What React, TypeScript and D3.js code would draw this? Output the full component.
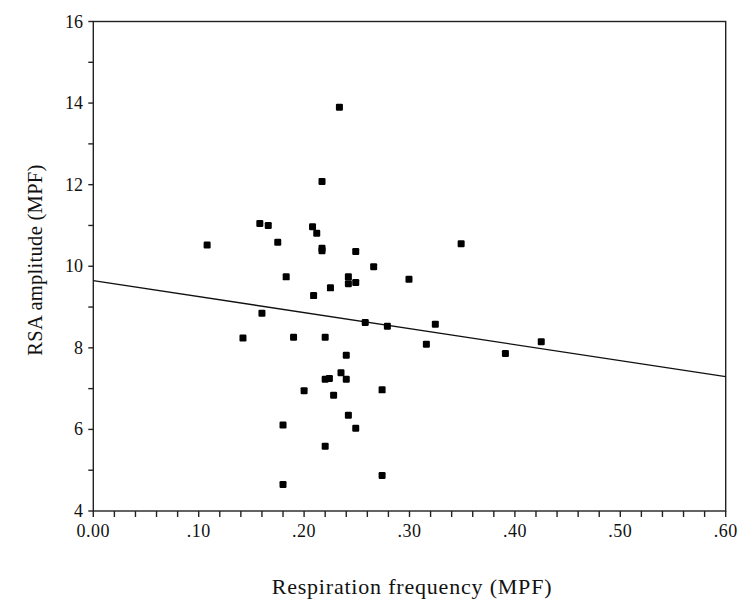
import React from "react";
import * as d3 from "d3";

const respFreq: number[] = [
  0.108, 0.142, 0.158, 0.160, 0.166, 0.175, 0.183, 0.180, 0.180, 0.190,
  0.200, 0.208, 0.209, 0.212, 0.217, 0.217, 0.217, 0.220, 0.220, 0.220,
  0.224, 0.225, 0.228, 0.2335, 0.235, 0.240, 0.240, 0.242, 0.242, 0.242,
  0.249, 0.249, 0.249, 0.258, 0.266, 0.274, 0.274, 0.279, 0.2995, 0.316,
  0.3245, 0.349, 0.391, 0.425,
];
const rsaAmp: number[] = [
  10.52, 8.24, 11.05, 8.85, 11.0, 10.59, 9.74, 6.11, 4.65, 8.26,
  6.95, 10.97, 9.28, 10.81, 12.08, 10.44, 10.38, 8.26, 7.23, 5.59,
  7.25, 9.47, 6.84, 13.9, 7.39, 7.82, 7.23, 9.74, 9.57, 6.35,
  10.36, 9.6, 6.03, 8.62, 9.99, 6.97, 4.87, 8.53, 9.68, 8.09,
  8.58, 10.55, 7.86, 8.15,
];
const fitIntercept = 9.65;
const fitSlope = -3.93;

const xTickValues = [0, 0.1, 0.2, 0.3, 0.4, 0.5, 0.6];
const xTickLabels = ["0.00", ".10", ".20", ".30", ".40", ".50", ".60"];
const yTickValues = [4, 6, 8, 10, 12, 14, 16];
const xTitle = "Respiration frequency (MPF)";
const yTitle = "RSA amplitude (MPF)";

const W = 756;
const H = 615;
const left = 93.3;
const right = 725.7;
const top = 21.5;
const bottom = 511;

export default function App() {
  const x = d3.scaleLinear().domain([0, 0.6]).range([left, right]);
  const y = d3.scaleLinear().domain([4, 16]).range([bottom, top]);
  const xMinor = d3.range(0, 0.6001, 0.02);
  const yMinor = d3.range(4, 16.001, 1);
  const font = "'Liberation Serif', 'Times New Roman', serif";
  const axisColor = "#222";
  const fitLine = d3
    .line<number>()
    .x((d) => x(d))
    .y((d) => y(fitIntercept + fitSlope * d));

  return (
    <svg
      width={W}
      height={H}
      style={{ position: "absolute", left: 0, top: 0, background: "#fff" }}
      fontFamily={font}
    >
      <rect x={0} y={0} width={W} height={H} fill="#fff" />
      {/* frame */}
      <rect
        x={left}
        y={top}
        width={right - left}
        height={bottom - top}
        fill="none"
        stroke={axisColor}
        strokeWidth={1.4}
      />
      {/* x ticks */}
      {xMinor.map((v, i) => (
        <line
          key={"xt" + i}
          x1={x(v)}
          x2={x(v)}
          y1={bottom}
          y2={bottom + 6}
          stroke={axisColor}
          strokeWidth={1.4}
        />
      ))}
      {xTickValues.map((v, i) => (
        <text
          key={"xl" + i}
          x={x(v)}
          y={537}
          textAnchor="middle"
          fontSize={18}
          letterSpacing={0.5}
          fill="#111"
        >
          {xTickLabels[i]}
        </text>
      ))}
      {/* y ticks */}
      {yMinor.map((v, i) => (
        <line
          key={"yt" + i}
          x1={left - 5}
          x2={left}
          y1={y(v)}
          y2={y(v)}
          stroke={axisColor}
          strokeWidth={1.4}
        />
      ))}
      {yTickValues.map((v, i) => (
        <text
          key={"yl" + i}
          x={83}
          y={y(v) + 6}
          textAnchor="end"
          fontSize={18}
          fill="#111"
        >
          {String(v)}
        </text>
      ))}
      {/* titles */}
      <text
        x={412}
        y={594}
        textAnchor="middle"
        fontSize={22}
        letterSpacing={0.8}
        fill="#111"
      >
        {xTitle}
      </text>
      <text
        transform={`translate(42, 260) rotate(-90)`}
        textAnchor="middle"
        fontSize={20.5}
        letterSpacing={0.3}
        fill="#111"
      >
        {yTitle}
      </text>
      {/* fit line */}
      <path
        d={fitLine([0, 0.6]) || ""}
        fill="none"
        stroke="#111"
        strokeWidth={1.3}
      />
      {/* points */}
      {respFreq.map((v, i) => (
        <rect
          key={"p" + i}
          x={x(v) - 3.5}
          y={y(rsaAmp[i]) - 3.5}
          width={7}
          height={7}
          rx={1.2}
          fill="#000"
        />
      ))}
    </svg>
  );
}
